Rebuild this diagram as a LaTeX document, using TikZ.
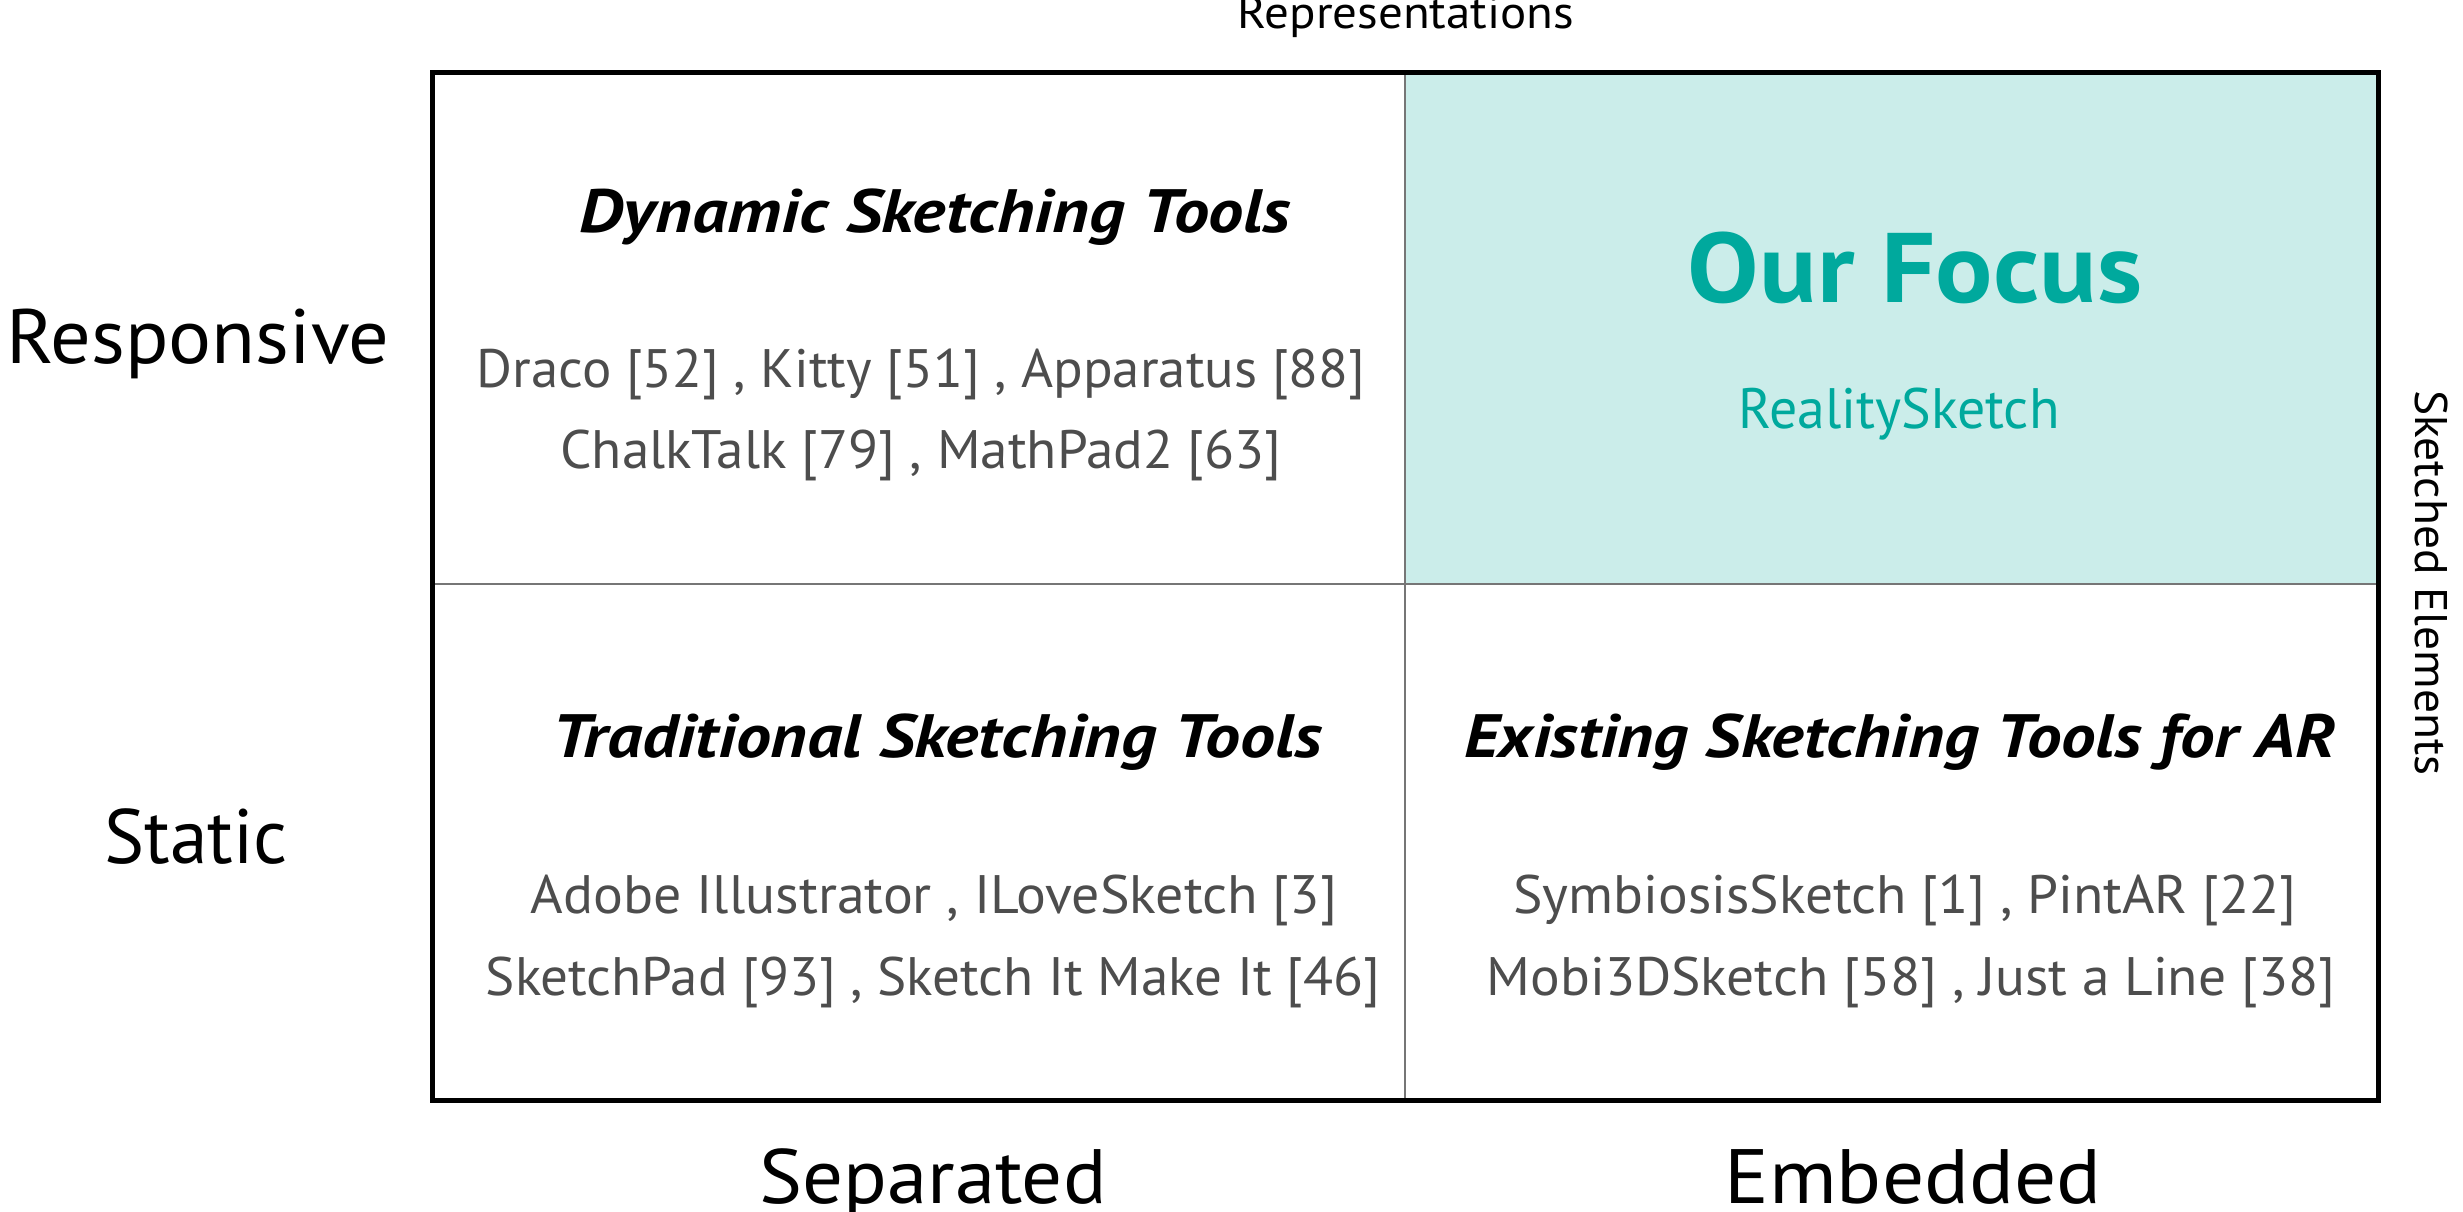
\documentclass[tikz,border=0pt]{standalone}
\usepackage{fontspec}
\usepackage{graphicx}
\setmainfont{PT Sans}
\definecolor{tealfill}{HTML}{CBEDEA}
\definecolor{tealtext}{HTML}{00A99D}
\definecolor{itemgray}{HTML}{4D4D4D}
\definecolor{gridgray}{HTML}{767676}
\newcommand\fw[2]{\resizebox{#1cm}{\height}{#2}}
\tikzset{
  lbl/.style={inner sep=0pt, anchor=base},
  axisbig/.style={lbl, text=black, font=\fontsize{21.9pt}{24pt}\selectfont},
  axissmall/.style={lbl, text=black, font=\fontsize{13pt}{15pt}\selectfont},
  celltitle/.style={lbl, text=black, font=\fontsize{17.4pt}{20pt}\selectfont\bfseries\itshape},
  itemtext/.style={lbl, text=itemgray, font=\fontsize{15.4pt}{18pt}\selectfont},
  focustitle/.style={lbl, text=tealtext, font=\fontsize{28.1pt}{30pt}\selectfont\bfseries},
  focusitem/.style={lbl, text=tealtext, font=\fontsize{16.2pt}{18pt}\selectfont},
  gridline/.style={draw=gridgray, line width=0.7pt},
  frame/.style={draw=black, line width=1.45pt}
}
\begin{document}
\begin{tikzpicture}[x=0.01cm, y=-0.01cm]
\useasboundingbox (0,0) rectangle (2463,1211);
% grid coordinates
\coordinate (tl) at (432.5,72.5);
\coordinate (br) at (2378.5,1100.5);
\coordinate (mt) at (1405,72.5);
\coordinate (mb) at (1405,1100.5);
\coordinate (ml) at (432.5,584);
\coordinate (mr) at (2378.5,584);
\coordinate (cc) at (1405,584);
\coordinate (tr) at (2378.5,72.5);
% focus cell
\fill[tealfill] (mt) rectangle (mr);
% inner grid lines
\draw[gridline] (mt) -- (mb);
\draw[gridline] (ml) -- (mr);
% outer frame
\draw[frame] (tl) rectangle (br);
% axis labels
\node[axissmall] (rep) at (1406,28) {\fw{3.36}{Representations}};
\node[axisbig] (resp) at (198,363) {\fw{3.83}{Responsive}};
\node[axisbig] (stat) at (196,863) {\fw{1.83}{Static}};
\node[axisbig] (sep) at (933,1203) {\fw{3.47}{Separated}};
\node[axisbig] (emb) at (1913,1203) {\fw{3.77}{Embedded}};
\node[axissmall, rotate=-90] (sk) at (2415,583) {\fw{3.85}{Sketched Elements}};
% top-left cell
\node[celltitle] (dyn) at (935,232) {\fw{7.11}{Dynamic Sketching Tools}};
\node[itemtext] (dyn1) at (921,387) {\fw{8.88}{Draco [52] , Kitty [51] , Apparatus [88]}};
\node[itemtext] (dyn2) at (921,468) {\fw{7.21}{ChalkTalk [79] , MathPad2 [63]}};
% top-right cell
\node[focustitle] (focus) at (1915,302) {\fw{4.54}{Our Focus}};
\node[focusitem] (rs) at (1899,428) {\fw{3.21}{RealitySketch}};
% bottom-left cell
\node[celltitle] (trad) at (937,757) {\fw{7.69}{Traditional Sketching Tools}};
\node[itemtext] (trad1) at (934,913) {\fw{8.06}{Adobe Illustrator , ILoveSketch [3]}};
\node[itemtext] (trad2) at (933,995) {\fw{8.94}{SketchPad [93] , Sketch It Make It [46]}};
% bottom-right cell
\node[celltitle] (ex) at (1900,757) {\fw{8.71}{Existing Sketching Tools for AR}};
\node[itemtext] (ex1) at (1905,913) {\fw{7.83}{SymbiosisSketch [1] , PintAR [22]}};
\node[itemtext] (ex2) at (1911,995) {\fw{8.48}{Mobi3DSketch [58] , Just a Line [38]}};
\end{tikzpicture}
\end{document}
